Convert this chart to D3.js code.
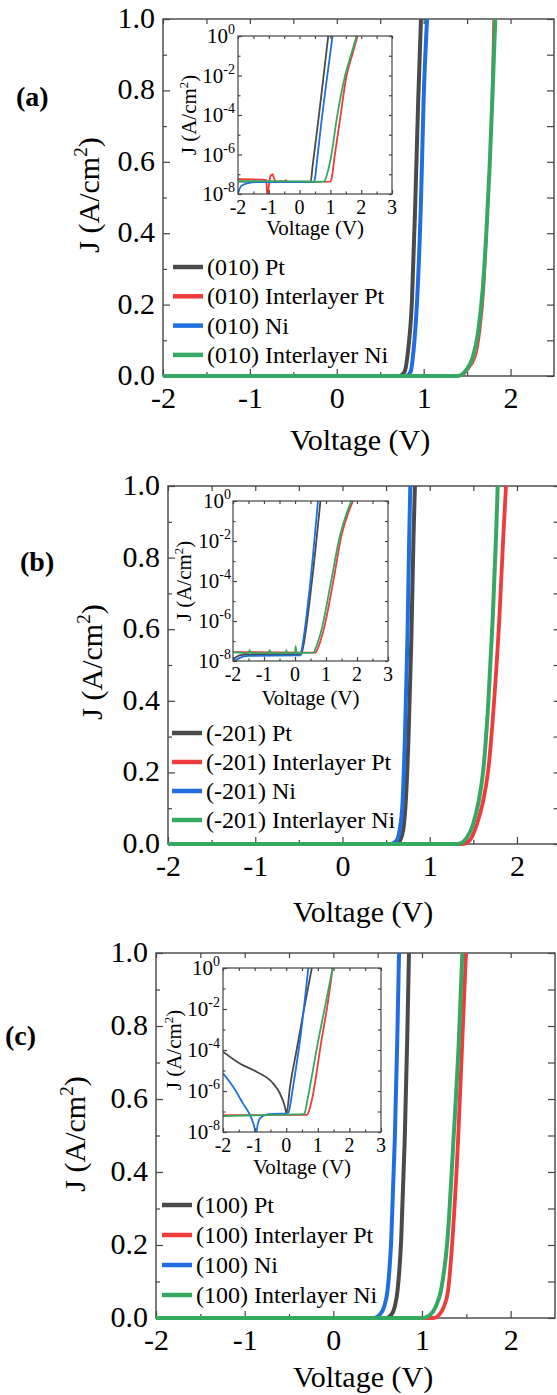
<!DOCTYPE html>
<html>
<head>
<meta charset="utf-8">
<script src="https://cdn.jsdelivr.net/npm/d3@7"></script>
<style>
  body { margin: 0; background: #fff; }
  svg, svg text { font-family: "Liberation Serif", "Times New Roman", Times, serif; }
</style>
</head>
<body>
<div id="chart"></div>
<script>
// ---- labels / ticks ----
const seriesNames = ["Pt", "Interlayer Pt", "Ni", "Interlayer Ni"];
const panelLetters = ["(a)", "(b)", "(c)"];
const planePrefixes = ["(010)", "(-201)", "(100)"];
const mainXTicks = [-2, -1, 0, 1, 2];
const mainXMinor = [-1.5, -0.5, 0.5, 1.5];
const mainYTicks = [0, 0.2, 0.4, 0.6, 0.8, 1.0];
const mainYMinor = [0.1, 0.3, 0.5, 0.7, 0.9];
const insetXTicks = [-2, -1, 0, 1, 2, 3];
const insetXMinor = [-1.5, -0.5, 0.5, 1.5, 2.5];
const insetYTicks = [1e-8, 1e-6, 1e-4, 1e-2, 1];
const insetYExp = ["-8", "-6", "-4", "-2", "0"];
const insetYMinor = [1e-7, 1e-5, 1e-3, 1e-1];

// ---- main curves: [V, J (A/cm2)] ----
const a_Pt  = [[-2,0],[0.72,0],[0.78,0.012],[0.82,0.07],[0.865,0.21],[0.904,0.49],[0.937,0.77],[0.969,1.0]];
const a_IPt = [[-2,0],[1.44,0],[1.51,0.017],[1.60,0.054],[1.65,0.12],[1.70,0.25],[1.73,0.40],[1.76,0.586],[1.78,0.773],[1.80,1.0]];
const a_Ni  = [[-2,0],[0.80,0],[0.85,0.012],[0.884,0.073],[0.924,0.21],[0.969,0.49],[0.999,0.77],[1.039,1.0]];
const a_INi = [[-2,0],[1.39,0],[1.491,0.017],[1.567,0.054],[1.625,0.12],[1.682,0.25],[1.721,0.40],[1.759,0.586],[1.79,0.773],[1.824,1.0]];

const b_Pt  = [[-2,0],[0.615,0],[0.66,0.01],[0.696,0.039],[0.724,0.114],[0.757,0.30],[0.79,0.58],[0.814,0.858],[0.83,1.0]];
const b_IPt = [[-2,0],[1.385,0],[1.461,0.011],[1.545,0.058],[1.607,0.114],[1.671,0.207],[1.736,0.393],[1.797,0.626],[1.843,0.858],[1.874,1.0]];
const b_Ni  = [[-2,0],[0.553,0],[0.62,0.01],[0.655,0.039],[0.688,0.114],[0.716,0.30],[0.745,0.58],[0.765,0.858],[0.777,1.0]];
const b_INi = [[-2,0],[1.327,0],[1.404,0.011],[1.5,0.058],[1.557,0.114],[1.614,0.207],[1.671,0.393],[1.721,0.626],[1.76,0.858],[1.779,1.0]];

const c_Pt  = [[-2,0],[0.592,0],[0.65,0.008],[0.693,0.031],[0.725,0.077],[0.765,0.214],[0.805,0.488],[0.833,0.762],[0.853,1.0]];
const c_IPt = [[-2,0],[1.134,0],[1.19,0.008],[1.247,0.031],[1.295,0.077],[1.343,0.214],[1.407,0.488],[1.455,0.762],[1.496,1.0]];
const c_Ni  = [[-2,0],[0.452,0],[0.52,0.008],[0.573,0.031],[0.612,0.077],[0.653,0.214],[0.693,0.488],[0.721,0.762],[0.741,1.0]];
const c_INi = [[-2,0],[1.014,0],[1.09,0.008],[1.155,0.031],[1.215,0.077],[1.287,0.214],[1.355,0.488],[1.416,0.762],[1.455,1.0]];

// ---- inset curves (log J): [V, J] ----
const ai_Pt  = [[-2,4.2e-8],[0.36,4.2e-8],[0.42,2.5e-7],[0.61,5.6e-5],[0.78,1e-2],[0.93,1]];
const ai_IPt = [[-2,5.6e-8],[-1.2,5.4e-8],[-1.08,5e-8],[-1.05,6.3e-9],[-1.0,2.5e-8],[-0.95,7.9e-8],[-0.88,1e-7],[-0.82,5.6e-8],[-0.75,4e-8],[-0.6,4.5e-8],[-0.5,4e-8],[-0.45,5e-8],[-0.4,4e-8],[1.0,4.2e-8],[1.04,6.3e-8],[1.15,1.15e-6],[1.31,5.6e-5],[1.52,8.9e-3],[1.73,0.14],[1.88,1]];
const ai_Ni  = [[-2,1.1e-8],[-1.9,2.5e-8],[-1.7,3.5e-8],[-1.4,4e-8],[0.45,4e-8],[0.5,6.3e-8],[0.56,4e-7],[0.72,6.3e-5],[0.9,1e-2],[1.07,1]];
const ai_INi = [[-2,4.5e-8],[0.8,4.2e-8],[0.85,6.3e-8],[1.04,1.15e-6],[1.2,5.6e-5],[1.47,8.9e-3],[1.69,0.14],[1.85,1]];

const bi_Pt  = [[-2,1e-8],[-1.9,1.6e-8],[-1.7,2e-8],[-1.5,2.1e-8],[0.2,2.1e-8],[0.25,4e-8],[0.55,1.07e-4],[0.82,1]];
const bi_IPt = [[-2,2.8e-8],[0.66,2.6e-8],[0.71,3.5e-8],[0.92,3.4e-7],[1.24,1.07e-4],[1.49,1.6e-2],[1.71,0.23],[1.87,1]];
const bi_Ni  = [[-2,7.9e-9],[-1.8,1.4e-8],[-1.5,1.8e-8],[0.18,1.9e-8],[0.21,3.2e-8],[0.5,1.07e-4],[0.74,1]];
const bi_INi = [[-2,2.8e-8],[-1.5,2.5e-8],[-1.46,3.5e-8],[-1.42,2.5e-8],[-0.85,2.5e-8],[-0.82,3.5e-8],[-0.78,2.5e-8],[-0.3,2.5e-8],[-0.28,3.5e-8],[-0.25,2.5e-8],[0,2.5e-8],[0.02,5.5e-8],[0.05,2.5e-8],[0.6,2.6e-8],[0.64,3.5e-8],[0.85,3.4e-7],[1.17,1.07e-4],[1.44,1.6e-2],[1.66,0.23],[1.82,1]];

const ci_Pt  = [[-2,8.3e-5],[-1.47,2.2e-5],[-0.94,8.7e-6],[-0.41,2.3e-6],[-0.2,7.6e-7],[-0.04,1.7e-7],[0.01,7.9e-8],[0.12,1.6e-6],[0.33,1e-4],[0.54,6.3e-3],[0.81,1]];
const ci_IPt = [[-2,6.6e-8],[0.66,6.9e-8],[0.70,8.9e-8],[0.81,3.5e-7],[1.12,3.2e-4],[1.30,1.35e-2],[1.47,1]];
const ci_Ni  = [[-2,7.2e-6],[-1.68,1.6e-6],[-1.37,2.5e-7],[-1.1,4.6e-8],[-0.99,1.26e-8],[-0.96,5e-9],[-0.93,1.26e-8],[-0.83,4.6e-8],[-0.62,7.1e-8],[-0.4,7.6e-8],[0.05,7.9e-8],[0.1,1.26e-7],[0.22,1.7e-6],[0.44,3.2e-4],[0.7,1]];
const ci_INi = [[-2,6e-8],[0,7.1e-8],[0.55,7.4e-8],[0.59,8.9e-8],[0.67,3.5e-7],[1.02,3.2e-4],[1.23,1.35e-2],[1.47,1]];

const mainData  = [[a_Pt, a_IPt, a_Ni, a_INi], [b_Pt, b_IPt, b_Ni, b_INi], [c_Pt, c_IPt, c_Ni, c_INi]];
const insetData = [[ai_Pt, ai_IPt, ai_Ni, ai_INi], [bi_Pt, bi_IPt, bi_Ni, bi_INi], [ci_Pt, ci_IPt, ci_Ni, ci_INi]];

// ---- styles / layout ----
const seriesColors = ["#4a4a4a", "#ee3b3b", "#1f6fe0", "#35a862"];
const frameColor = "#444";
const serif = "Liberation Serif, Times New Roman, Times, serif";
const layout = [
  {x0:163, x1:554,   y0:19,  y1:376,  ix0:238, ix1:392, iy0:36,  iy1:194,  letterX:16, letterY:106,  yTitleX:99,  yTitleY:195,  xTitleX:360, xTitleY:450,  legX:173, legY:267,  legStep:29.3, iTitleX:196, iLabGap:3, iTitleDy:41, redW:1.6},
  {x0:168, x1:560.6, y0:486, y1:844,  ix0:233, ix1:388, iy0:501, iy1:661,  letterX:20, letterY:571,  yTitleX:102, yTitleY:662,  xTitleX:363, xTitleY:922,  legX:172, legY:733,  legStep:29,   iTitleX:191, iLabGap:2, iTitleDy:44, redW:3.8},
  {x0:156, x1:555,   y0:953, y1:1318, ix0:223, ix1:381, iy0:968, iy1:1132, letterX:5,  letterY:1045, yTitleX:85,  yTitleY:1134, xTitleX:363, xTitleY:1387, legX:162, legY:1205, legStep:30,   iTitleX:181, iLabGap:3, iTitleDy:42, redW:3.8}
];

const svg = d3.select("#chart").append("svg")
    .attr("width", 557)
    .attr("height", 1395)
    .attr("font-family", serif);

function ticks(g, axis, transform) {
    g.append("g")
        .attr("transform", transform)
        .call(axis)
        .call(s => s.select(".domain").remove())
        .call(s => s.selectAll("line").attr("stroke", frameColor).attr("stroke-width", 1.2));
}

layout.forEach(function (L, p) {
    const g = svg.append("g");
    const x = d3.scaleLinear().domain([-2, 2.5]).range([L.x0, L.x1]);
    const y = d3.scaleLinear().domain([0, 1]).range([L.y1, L.y0]);

    // frame
    g.append("rect").attr("x", L.x0).attr("y", L.y0).attr("width", L.x1 - L.x0).attr("height", L.y1 - L.y0)
        .attr("fill", "none").attr("stroke", frameColor).attr("stroke-width", 1.4);

    // minor + mirrored ticks
    ticks(g, d3.axisBottom(x).tickValues(mainXMinor).tickSizeInner(-4).tickSizeOuter(0).tickFormat(""), `translate(0,${L.y1})`);
    ticks(g, d3.axisTop(x).tickValues(mainXTicks.concat(mainXMinor)).tickSizeInner(-5).tickSizeOuter(0).tickFormat(""), `translate(0,${L.y0})`);
    ticks(g, d3.axisLeft(y).tickValues(mainYMinor).tickSizeInner(-4).tickSizeOuter(0).tickFormat(""), `translate(${L.x0},0)`);
    ticks(g, d3.axisRight(y).tickValues(mainYTicks.concat(mainYMinor)).tickSizeInner(-7).tickSizeOuter(0).tickFormat(""), `translate(${L.x1},0)`);

    // labelled axes
    const xAx = g.append("g").attr("transform", `translate(0,${L.y1})`)
        .call(d3.axisBottom(x).tickValues(mainXTicks).tickSizeInner(-7).tickSizeOuter(0).tickFormat(d => String(d)));
    xAx.select(".domain").remove();
    xAx.selectAll("line").attr("stroke", frameColor).attr("stroke-width", 1.2);
    xAx.attr("font-family", serif).attr("font-size", 30);
    xAx.selectAll("text").attr("y", 32).attr("dy", null).attr("fill", "#000");

    const yAx = g.append("g").attr("transform", `translate(${L.x0},0)`)
        .call(d3.axisLeft(y).tickValues(mainYTicks).tickSizeInner(-7).tickSizeOuter(0).tickPadding(8).tickFormat(d3.format(".1f")));
    yAx.select(".domain").remove();
    yAx.selectAll("line").attr("stroke", frameColor).attr("stroke-width", 1.2);
    yAx.attr("font-family", serif).attr("font-size", 30);
    yAx.selectAll("text").attr("dy", "0.28em").attr("fill", "#000");

    // titles
    g.append("text").attr("x", L.xTitleX).attr("y", L.xTitleY).attr("text-anchor", "middle")
        .attr("font-size", 30).text("Voltage (V)");
    const yt = g.append("text").attr("transform", `translate(${L.yTitleX},${L.yTitleY}) rotate(-90)`)
        .attr("text-anchor", "middle").attr("font-size", 30);
    yt.append("tspan").text("J (A/cm");
    yt.append("tspan").attr("font-size", 19).attr("dy", -12).text("2");
    yt.append("tspan").attr("dy", 12).text(")");

    g.append("text").attr("x", L.letterX).attr("y", L.letterY).attr("font-size", 28)
        .attr("font-weight", "bold").text(panelLetters[p]);

    // curves
    const clipId = "clip" + p;
    g.append("clipPath").attr("id", clipId).append("rect")
        .attr("x", L.x0).attr("y", L.y0).attr("width", L.x1 - L.x0).attr("height", L.y1 - L.y0 + 4);
    const line = d3.line().x(d => x(d[0])).y(d => y(d[1])).curve(d3.curveMonotoneX);
    g.append("g").attr("clip-path", `url(#${clipId})`)
        .selectAll("path")
        .data(mainData[p])
        .join("path")
        .attr("d", line)
        .attr("fill", "none")
        .attr("stroke", (d, i) => seriesColors[i])
        .attr("stroke-width", (d, i) => i === 1 ? L.redW : 4)
        .attr("stroke-linejoin", "round");

    // legend
    const leg = g.append("g");
    seriesNames.forEach(function (name, i) {
        const ly = L.legY + i * L.legStep;
        leg.append("line").attr("x1", L.legX).attr("x2", L.legX + 30).attr("y1", ly).attr("y2", ly)
            .attr("stroke", seriesColors[i]).attr("stroke-width", 4.5);
        leg.append("text").attr("x", L.legX + 34).attr("y", ly).attr("dy", "0.33em")
            .attr("font-size", 24).text(planePrefixes[p] + " " + name);
    });

    // ---- inset ----
    const ix = d3.scaleLinear().domain([-2, 3]).range([L.ix0, L.ix1]);
    const iy = d3.scaleLog().domain([1e-8, 1]).range([L.iy1, L.iy0]);
    const ig = g.append("g");
    ig.append("rect").attr("x", L.ix0).attr("y", L.iy0).attr("width", L.ix1 - L.ix0).attr("height", L.iy1 - L.iy0)
        .attr("fill", "#fff");

    const iclip = "iclip" + p;
    ig.append("clipPath").attr("id", iclip).append("rect")
        .attr("x", L.ix0).attr("y", L.iy0).attr("width", L.ix1 - L.ix0).attr("height", L.iy1 - L.iy0);
    const iline = d3.line().x(d => ix(d[0])).y(d => iy(d[1])).curve(d3.curveMonotoneX);
    ig.append("g").attr("clip-path", `url(#${iclip})`)
        .selectAll("path")
        .data(insetData[p])
        .join("path")
        .attr("d", iline)
        .attr("fill", "none")
        .attr("stroke", (d, i) => seriesColors[i])
        .attr("stroke-width", 1.8);

    ig.append("rect").attr("x", L.ix0).attr("y", L.iy0).attr("width", L.ix1 - L.ix0).attr("height", L.iy1 - L.iy0)
        .attr("fill", "none").attr("stroke", frameColor).attr("stroke-width", 1.2);

    ticks(ig, d3.axisBottom(ix).tickValues(insetXTicks).tickSizeInner(-4).tickSizeOuter(0).tickFormat(""), `translate(0,${L.iy1})`);
    ticks(ig, d3.axisBottom(ix).tickValues(insetXMinor).tickSizeInner(-2.5).tickSizeOuter(0).tickFormat(""), `translate(0,${L.iy1})`);
    ticks(ig, d3.axisTop(ix).tickValues(insetXTicks.concat(insetXMinor)).tickSizeInner(-3).tickSizeOuter(0).tickFormat(""), `translate(0,${L.iy0})`);
    ticks(ig, d3.axisLeft(iy).tickValues(insetYTicks).tickSizeInner(-4).tickSizeOuter(0).tickFormat(""), `translate(${L.ix0},0)`);
    ticks(ig, d3.axisLeft(iy).tickValues(insetYMinor).tickSizeInner(-2.5).tickSizeOuter(0).tickFormat(""), `translate(${L.ix0},0)`);
    ticks(ig, d3.axisRight(iy).tickValues(insetYTicks.concat(insetYMinor)).tickSizeInner(-3).tickSizeOuter(0).tickFormat(""), `translate(${L.ix1},0)`);

    ig.selectAll(".ixlab").data(insetXTicks).join("text")
        .attr("x", d => ix(d)).attr("y", L.iy1 + 20).attr("text-anchor", "middle")
        .attr("font-size", 20).text(d => String(d));

    const ylab = ig.selectAll(".iylab").data(insetYTicks).join("text")
        .attr("x", L.ix0 - L.iLabGap).attr("y", d => iy(d) + 7).attr("text-anchor", "end")
        .attr("font-size", 21);
    ylab.append("tspan").text("10");
    ylab.append("tspan").attr("font-size", 14).attr("dy", -9).text((d, i) => insetYExp[i]);

    ig.append("text").attr("x", (L.ix0 + L.ix1) / 2).attr("y", L.iy1 + L.iTitleDy).attr("text-anchor", "middle")
        .attr("font-size", 21).text("Voltage (V)");
    const iyt = ig.append("text").attr("transform", `translate(${L.iTitleX},${(L.iy0 + L.iy1) / 2}) rotate(-90)`)
        .attr("text-anchor", "middle").attr("font-size", 21);
    iyt.append("tspan").text("J (A/cm");
    iyt.append("tspan").attr("font-size", 13).attr("dy", -8).text("2");
    iyt.append("tspan").attr("dy", 8).text(")");
});
</script>
</body>
</html>
